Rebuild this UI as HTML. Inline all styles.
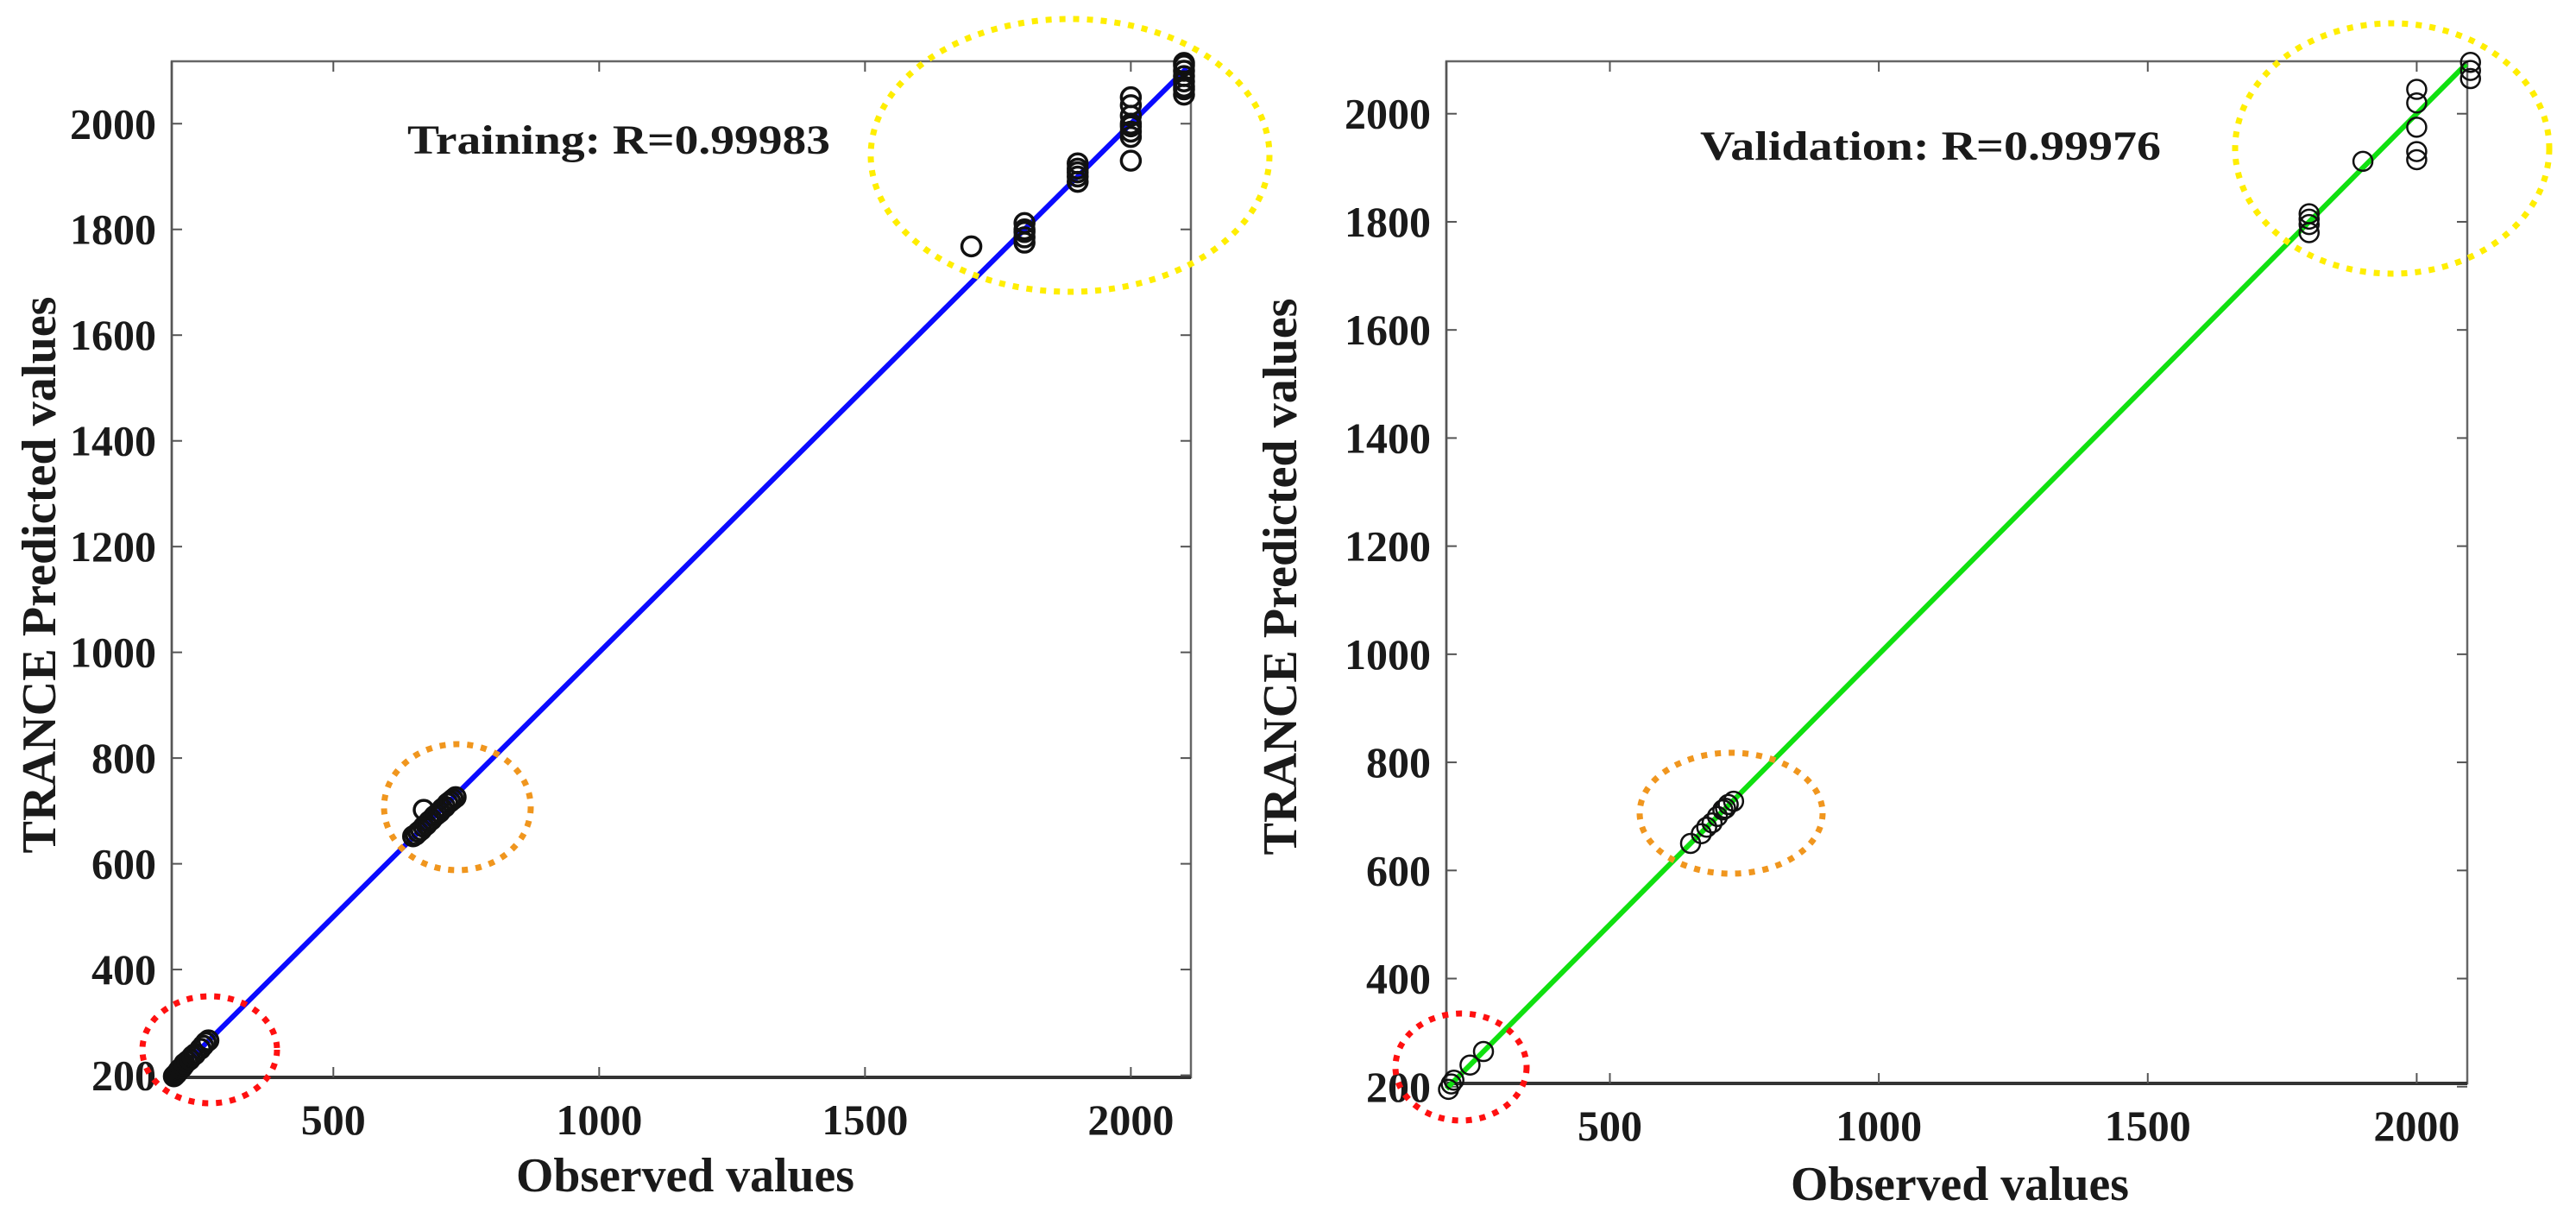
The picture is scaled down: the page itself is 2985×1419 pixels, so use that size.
<!DOCTYPE html>
<html><head><meta charset="utf-8"><style>
html,body{margin:0;padding:0;background:#fff;}
svg{display:block;}
text{font-family:"Liberation Serif",serif;font-weight:bold;fill:#1a1a1a;}
</style></head><body>
<svg id="fig" width="2985" height="1419" viewBox="0 0 2985 1419" xmlns="http://www.w3.org/2000/svg"></svg>
<script>
// ---- data ----
const xTicks = [500, 1000, 1500, 2000];
const yTicks = [200, 400, 600, 800, 1000, 1200, 1400, 1600, 1800, 2000];
const trainObs = [200,202,205,208,210,212,215,218,220,225,230,235,240,250,255,260,265,650,655,660,665,670,675,680,685,690,695,700,705,710,715,720,725,730,670,1700,1800,1800,1800,1800,1800,1900,1900,1900,1900,1900,2000,2000,2000,2000,2000,2000,2000,2000,2100,2100,2100,2100,2100,2100,2100,2100];
const trainPred = [198,200,203,207,210,212,214,218,222,226,230,236,240,250,256,262,266,652,655,660,664,670,674,680,684,690,694,698,704,708,714,718,722,726,702,1768,1775,1785,1795,1800,1812,1890,1900,1908,1915,1925,1930,1975,1985,1995,2000,2015,2035,2050,2055,2065,2070,2080,2090,2100,2110,2115];
const validObs = [200,205,210,240,265,650,670,680,690,700,710,715,720,730,1800,1800,1800,1800,1900,2000,2000,2000,2000,2000,2100,2100,2100];
const validPred = [195,205,212,240,265,650,668,680,688,700,712,715,722,728,1780,1795,1805,1815,1912,1915,1930,1975,2020,2045,2065,2080,2095];
const trainLine = [196, 2105];
const validLine = [196, 2092];

const NS = "http://www.w3.org/2000/svg";
const svg = document.getElementById('fig');
function mk(tag, attrs, parent){const e=document.createElementNS(NS,tag);for(const k in attrs)e.setAttribute(k,attrs[k]);(parent||svg).appendChild(e);return e;}

function panel(cfg){
  const g = mk('g',{});
  
  
  const sx = v => cfg.L + (v - cfg.xmin)/(cfg.xmax - cfg.xmin)*(cfg.R - cfg.L);
  const sy = v => cfg.B - (v - cfg.ymin)/(cfg.ymax - cfg.ymin)*(cfg.B - cfg.T);
  const box = mk('rect',{x:cfg.L,y:cfg.T,width:cfg.R-cfg.L,height:cfg.B-cfg.T,fill:'none',stroke:'#666','stroke-width':2.5},g);
  
  
  const xa = mk('line',{x1:cfg.L,y1:cfg.B,x2:cfg.R,y2:cfg.B,stroke:'#333','stroke-width':4},g);
  
  
  const ya = mk('line',{x1:cfg.L,y1:cfg.T,x2:cfg.L,y2:cfg.B,stroke:'#555','stroke-width':2.5},g);
  
  
  xTicks.forEach(t=>{
    const x = sx(t);
    mk('line',{x1:x,y1:cfg.B,x2:x,y2:cfg.B-12,stroke:'#555','stroke-width':2},g);
    mk('line',{x1:x,y1:cfg.T,x2:x,y2:cfg.T+12,stroke:'#555','stroke-width':2},g);
    const tl = mk('text',{x:x,y:cfg.B+66,'text-anchor':'middle','font-size':50,textLength:(String(t).length*25),lengthAdjust:'spacingAndGlyphs'},g);
    tl.textContent = t;
    
    
  });
  yTicks.forEach(t=>{
    const y = sy(t);
    if (y < cfg.T-2 || y > cfg.B+20) return;
    mk('line',{x1:cfg.L,y1:y,x2:cfg.L+12,y2:y,stroke:'#555','stroke-width':2},g);
    mk('line',{x1:cfg.R,y1:y,x2:cfg.R-12,y2:y,stroke:'#555','stroke-width':2},g);
    const tl = mk('text',{x:cfg.L-18,y:y+17,'text-anchor':'end','font-size':50,textLength:(String(t).length*25),lengthAdjust:'spacingAndGlyphs'},g);
    tl.textContent = t;
    
    
  });
  const ln = mk('line',{x1:sx(cfg.line[0]),y1:sy(cfg.line[0]),x2:sx(cfg.line[1]),y2:sy(cfg.line[1]),stroke:cfg.lineColor,'stroke-width':6},g);
  
  
  cfg.xs.forEach((v,i)=>{
    const c = mk('circle',{cx:sx(v),cy:sy(cfg.ys[i]),r:11,fill:'none',stroke:'#111','stroke-width':cfg.pw},g);
    
    
  });
  cfg.ells.forEach(e=>{
    const el = mk('ellipse',{cx:e[0],cy:e[1],rx:e[2],ry:e[3],fill:'none',stroke:e[4],'stroke-width':7,'stroke-dasharray':'7 9'},g);
    
    
  });
  const ti = mk('text',{x:cfg.titleX,y:cfg.titleY,'text-anchor':'middle','font-size':48,textLength:cfg.titleW,lengthAdjust:'spacingAndGlyphs'},g);
  ti.textContent = cfg.title;
  
  
  const xt = mk('text',{x:cfg.xtX,y:cfg.xtY,'text-anchor':'middle','font-size':56,textLength:392,lengthAdjust:'spacingAndGlyphs'},g);
  xt.textContent = 'Observed values';
  
  
  const yt = mk('text',{x:0,y:0,'text-anchor':'middle','font-size':56,textLength:645,lengthAdjust:'spacingAndGlyphs',transform:`translate(${cfg.ytX},${cfg.ytY}) rotate(-90)`},g);
  yt.textContent = 'TRANCE Predicted values';
  
  
}

panel({name:'training-chart',L:199,R:1380,T:71,B:1248,xmin:196,xmax:2113,ymin:196,ymax:2118,
  xs:trainObs,ys:trainPred,line:trainLine,lineColor:'#0a0aff',pw:3.5,
  ells:[[1240,180,231,158,'#ffee00','yellow-highlight'],[530,935,85,73,'#f0961e','orange-highlight'],[243,1216,78,62,'#ff1010','red-highlight']],
  title:'Training: R=0.99983',titleX:717,titleY:178,titleW:490,xtX:794,xtY:1380,ytX:64,ytY:666});
panel({name:'validation-chart',L:1676,R:2859,T:71,B:1255,xmin:196,xmax:2094,ymin:206,ymax:2097,
  xs:validObs,ys:validPred,line:validLine,lineColor:'#10e010',pw:2.5,
  ells:[[2772,172,182,145,'#ffee00','yellow-highlight'],[2006,942,106,70,'#f0961e','orange-highlight'],[1693,1236,76,62,'#ff1010','red-highlight']],
  title:'Validation: R=0.99976',titleX:2237,titleY:185,titleW:534,xtX:2271,xtY:1390,ytX:1502,ytY:668});
</script>
</body></html>
